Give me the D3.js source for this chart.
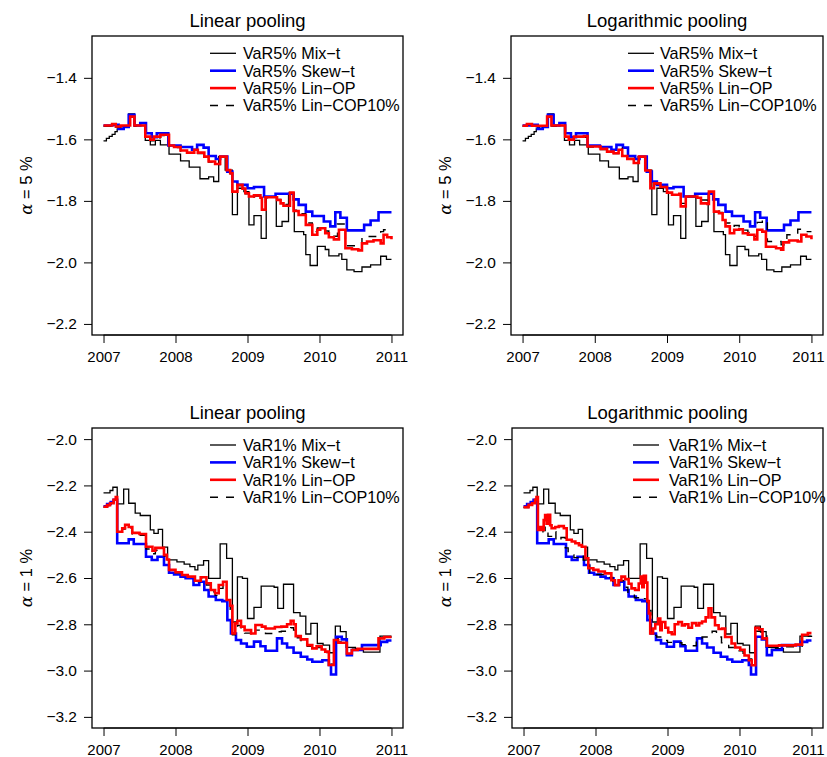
<!DOCTYPE html>
<html><head><meta charset="utf-8">
<script src="https://cdn.jsdelivr.net/npm/d3@7"></script>
<style>body{margin:0;background:#fff}svg{display:block}text{font-family:"Liberation Sans",Arial,Helvetica,sans-serif;fill:#000}</style>
</head><body><svg id="c" width="827" height="757"></svg>
<script>
// ---------- data ----------
const yearTicks = [2007, 2008, 2009, 2010, 2011];
const yTicks5 = [-2.2, -2.0, -1.8, -1.6, -1.4];
const yTicks1 = [-3.2, -3.0, -2.8, -2.6, -2.4, -2.2, -2.0];
const titles = ["Linear pooling", "Logarithmic pooling"];
const legend5 = ["VaR5% Mix\u2212t", "VaR5% Skew\u2212t", "VaR5% Lin\u2212OP", "VaR5% Lin\u2212COP10%"];
const legend1 = ["VaR1% Mix\u2212t", "VaR1% Skew\u2212t", "VaR1% Lin\u2212OP", "VaR1% Lin\u2212COP10%"];

// alpha = 5%  [year, VaR]
const mix5 = [[2007.00,-1.605],[2007.04,-1.597],[2007.08,-1.590],[2007.12,-1.584],[2007.16,-1.575],[2007.19,-1.566],[2007.23,-1.556],[2007.35,-1.517],[2007.43,-1.555],[2007.58,-1.603],[2007.65,-1.618],[2007.72,-1.603],[2007.79,-1.618],[2007.91,-1.648],[2008.07,-1.670],[2008.19,-1.690],[2008.34,-1.728],[2008.46,-1.722],[2008.53,-1.737],[2008.60,-1.656],[2008.69,-1.700],[2008.79,-1.845],[2008.86,-1.759],[2008.95,-1.770],[2009.02,-1.878],[2009.09,-1.848],[2009.19,-1.922],[2009.26,-1.786],[2009.40,-1.883],[2009.48,-1.867],[2009.57,-1.775],[2009.65,-1.900],[2009.78,-1.910],[2009.81,-1.975],[2009.87,-2.010],[2009.97,-1.948],[2010.08,-1.958],[2010.13,-1.979],[2010.27,-1.972],[2010.31,-1.990],[2010.38,-2.024],[2010.48,-2.030],[2010.59,-2.015],[2010.71,-2.008],[2010.85,-1.980],[2010.93,-1.990],[2011.00,-1.990]];
const skew5 = [[2007.00,-1.555],[2007.12,-1.553],[2007.21,-1.566],[2007.28,-1.560],[2007.35,-1.520],[2007.43,-1.555],[2007.51,-1.547],[2007.59,-1.580],[2007.67,-1.593],[2007.74,-1.580],[2007.90,-1.620],[2008.07,-1.625],[2008.23,-1.634],[2008.30,-1.618],[2008.39,-1.627],[2008.46,-1.654],[2008.56,-1.664],[2008.62,-1.656],[2008.72,-1.705],[2008.79,-1.737],[2008.86,-1.748],[2009.00,-1.759],[2009.09,-1.755],[2009.23,-1.786],[2009.39,-1.777],[2009.64,-1.795],[2009.71,-1.813],[2009.81,-1.835],[2009.90,-1.849],[2010.06,-1.867],[2010.15,-1.883],[2010.22,-1.837],[2010.29,-1.855],[2010.38,-1.896],[2010.62,-1.878],[2010.71,-1.864],[2010.82,-1.837],[2011.00,-1.837]];
const linOP5lin = [[2007.00,-1.555],[2007.12,-1.550],[2007.17,-1.558],[2007.24,-1.555],[2007.37,-1.526],[2007.43,-1.555],[2007.58,-1.591],[2007.65,-1.601],[2007.70,-1.591],[2007.79,-1.585],[2007.91,-1.620],[2007.98,-1.625],[2008.07,-1.636],[2008.16,-1.643],[2008.26,-1.634],[2008.31,-1.643],[2008.40,-1.656],[2008.46,-1.672],[2008.55,-1.680],[2008.62,-1.656],[2008.71,-1.700],[2008.76,-1.710],[2008.79,-1.770],[2008.86,-1.748],[2008.93,-1.760],[2008.97,-1.775],[2009.02,-1.786],[2009.09,-1.782],[2009.18,-1.790],[2009.20,-1.829],[2009.25,-1.788],[2009.41,-1.797],[2009.46,-1.808],[2009.50,-1.816],[2009.59,-1.773],[2009.64,-1.833],[2009.71,-1.846],[2009.81,-1.878],[2009.90,-1.910],[2009.97,-1.894],[2010.01,-1.889],[2010.08,-1.905],[2010.13,-1.918],[2010.20,-1.925],[2010.27,-1.894],[2010.36,-1.954],[2010.45,-1.957],[2010.54,-1.961],[2010.59,-1.938],[2010.66,-1.932],[2010.75,-1.928],[2010.85,-1.938],[2010.89,-1.910],[2010.94,-1.918],[2011.00,-1.925]];
const cop5lin = [[2007.00,-1.557],[2007.12,-1.552],[2007.17,-1.560],[2007.24,-1.556],[2007.37,-1.528],[2007.43,-1.557],[2007.58,-1.593],[2007.65,-1.605],[2007.70,-1.595],[2007.79,-1.588],[2007.91,-1.622],[2007.98,-1.627],[2008.07,-1.638],[2008.16,-1.645],[2008.26,-1.636],[2008.31,-1.646],[2008.40,-1.660],[2008.46,-1.674],[2008.55,-1.682],[2008.62,-1.658],[2008.71,-1.702],[2008.76,-1.712],[2008.79,-1.772],[2008.86,-1.750],[2008.93,-1.762],[2008.97,-1.777],[2009.02,-1.788],[2009.09,-1.784],[2009.18,-1.792],[2009.20,-1.826],[2009.25,-1.790],[2009.41,-1.795],[2009.46,-1.803],[2009.50,-1.812],[2009.59,-1.775],[2009.64,-1.830],[2009.71,-1.842],[2009.81,-1.872],[2009.90,-1.900],[2009.97,-1.888],[2010.01,-1.884],[2010.08,-1.898],[2010.13,-1.910],[2010.20,-1.915],[2010.25,-1.875],[2010.36,-1.946],[2010.50,-1.948],[2010.59,-1.920],[2010.66,-1.916],[2010.78,-1.912],[2010.85,-1.900],[2010.89,-1.894],[2011.00,-1.896]];
const linOP5log = [[2007.00,-1.556],[2007.06,-1.550],[2007.13,-1.556],[2007.34,-1.526],[2007.40,-1.555],[2007.59,-1.591],[2007.64,-1.601],[2007.71,-1.591],[2007.85,-1.589],[2007.90,-1.623],[2008.08,-1.631],[2008.17,-1.640],[2008.26,-1.645],[2008.33,-1.634],[2008.38,-1.654],[2008.45,-1.664],[2008.54,-1.677],[2008.61,-1.656],[2008.70,-1.701],[2008.77,-1.759],[2008.82,-1.743],[2008.91,-1.755],[2009.00,-1.773],[2009.07,-1.780],[2009.17,-1.777],[2009.19,-1.818],[2009.26,-1.786],[2009.42,-1.790],[2009.47,-1.808],[2009.56,-1.810],[2009.58,-1.770],[2009.65,-1.835],[2009.72,-1.840],[2009.77,-1.862],[2009.81,-1.883],[2009.87,-1.905],[2009.93,-1.894],[2010.00,-1.892],[2010.05,-1.905],[2010.12,-1.910],[2010.21,-1.925],[2010.25,-1.894],[2010.32,-1.900],[2010.37,-1.949],[2010.51,-1.954],[2010.58,-1.959],[2010.61,-1.935],[2010.69,-1.929],[2010.81,-1.932],[2010.86,-1.910],[2010.93,-1.916],[2011.00,-1.925]];
const cop5log = [[2007.00,-1.557],[2007.06,-1.552],[2007.13,-1.558],[2007.34,-1.528],[2007.40,-1.557],[2007.59,-1.593],[2007.64,-1.603],[2007.71,-1.593],[2007.90,-1.625],[2008.08,-1.633],[2008.17,-1.642],[2008.26,-1.646],[2008.33,-1.628],[2008.38,-1.650],[2008.45,-1.662],[2008.54,-1.672],[2008.61,-1.656],[2008.70,-1.700],[2008.77,-1.755],[2008.82,-1.745],[2008.91,-1.757],[2009.00,-1.772],[2009.07,-1.780],[2009.17,-1.783],[2009.19,-1.808],[2009.26,-1.786],[2009.42,-1.790],[2009.47,-1.797],[2009.56,-1.803],[2009.58,-1.772],[2009.65,-1.828],[2009.72,-1.838],[2009.77,-1.855],[2009.81,-1.872],[2009.87,-1.885],[2009.93,-1.880],[2010.00,-1.884],[2010.05,-1.895],[2010.12,-1.903],[2010.21,-1.915],[2010.25,-1.870],[2010.32,-1.862],[2010.39,-1.932],[2010.58,-1.943],[2010.66,-1.910],[2010.81,-1.892],[2010.88,-1.900],[2011.00,-1.900]];

// alpha = 1%
const mix1 = [[2007.00,-2.232],[2007.09,-2.222],[2007.13,-2.208],[2007.19,-2.280],[2007.28,-2.216],[2007.35,-2.277],[2007.44,-2.320],[2007.51,-2.330],[2007.65,-2.392],[2007.70,-2.407],[2007.76,-2.390],[2007.82,-2.467],[2007.89,-2.522],[2008.02,-2.530],[2008.12,-2.540],[2008.20,-2.551],[2008.27,-2.565],[2008.31,-2.544],[2008.39,-2.525],[2008.46,-2.602],[2008.62,-2.453],[2008.71,-2.515],[2008.79,-2.790],[2008.86,-2.595],[2008.93,-2.602],[2009.00,-2.775],[2009.09,-2.727],[2009.19,-2.635],[2009.37,-2.640],[2009.42,-2.731],[2009.50,-2.627],[2009.64,-2.750],[2009.73,-2.765],[2009.81,-2.842],[2009.88,-2.796],[2009.97,-2.883],[2010.05,-2.890],[2010.14,-2.923],[2010.22,-2.808],[2010.29,-2.832],[2010.37,-2.900],[2010.50,-2.905],[2010.61,-2.920],[2010.84,-2.851],[2011.00,-2.851]];
const skew1 = [[2007.00,-2.290],[2007.05,-2.280],[2007.10,-2.272],[2007.14,-2.262],[2007.19,-2.450],[2007.35,-2.433],[2007.42,-2.453],[2007.59,-2.508],[2007.67,-2.522],[2007.75,-2.508],[2007.84,-2.544],[2007.91,-2.577],[2007.98,-2.585],[2008.07,-2.594],[2008.14,-2.601],[2008.25,-2.630],[2008.33,-2.616],[2008.40,-2.652],[2008.46,-2.680],[2008.56,-2.695],[2008.65,-2.700],[2008.72,-2.782],[2008.77,-2.840],[2008.84,-2.868],[2008.91,-2.883],[2008.99,-2.897],[2009.09,-2.875],[2009.18,-2.895],[2009.25,-2.914],[2009.41,-2.861],[2009.48,-2.883],[2009.55,-2.900],[2009.64,-2.923],[2009.74,-2.940],[2009.83,-2.952],[2009.90,-2.962],[2010.04,-2.955],[2010.13,-2.976],[2010.16,-3.017],[2010.23,-2.854],[2010.31,-2.865],[2010.38,-2.933],[2010.45,-2.911],[2010.59,-2.890],[2010.85,-2.876],[2010.94,-2.870],[2011.00,-2.870]];
const linOP1lin = [[2007.00,-2.292],[2007.05,-2.285],[2007.09,-2.277],[2007.14,-2.262],[2007.17,-2.250],[2007.19,-2.400],[2007.26,-2.385],[2007.30,-2.370],[2007.35,-2.380],[2007.40,-2.405],[2007.50,-2.410],[2007.59,-2.465],[2007.68,-2.482],[2007.72,-2.470],[2007.80,-2.470],[2007.84,-2.500],[2007.88,-2.520],[2007.91,-2.565],[2008.00,-2.575],[2008.09,-2.587],[2008.17,-2.594],[2008.27,-2.612],[2008.35,-2.597],[2008.43,-2.623],[2008.49,-2.652],[2008.55,-2.666],[2008.60,-2.630],[2008.66,-2.616],[2008.71,-2.695],[2008.76,-2.720],[2008.79,-2.840],[2008.83,-2.796],[2008.86,-2.785],[2008.91,-2.810],[2008.96,-2.825],[2009.05,-2.840],[2009.11,-2.803],[2009.20,-2.810],[2009.25,-2.818],[2009.38,-2.812],[2009.47,-2.810],[2009.55,-2.800],[2009.60,-2.785],[2009.64,-2.800],[2009.67,-2.851],[2009.74,-2.865],[2009.83,-2.890],[2009.90,-2.904],[2009.96,-2.895],[2010.03,-2.909],[2010.08,-2.918],[2010.13,-2.976],[2010.20,-2.868],[2010.26,-2.880],[2010.38,-2.926],[2010.45,-2.911],[2010.53,-2.906],[2010.82,-2.861],[2010.90,-2.855],[2011.00,-2.855]];
const cop1lin = [[2007.00,-2.294],[2007.05,-2.287],[2007.09,-2.279],[2007.14,-2.264],[2007.17,-2.252],[2007.19,-2.402],[2007.26,-2.388],[2007.30,-2.375],[2007.35,-2.385],[2007.40,-2.410],[2007.50,-2.415],[2007.59,-2.475],[2007.68,-2.495],[2007.72,-2.480],[2007.80,-2.478],[2007.84,-2.505],[2007.88,-2.525],[2007.91,-2.568],[2008.00,-2.578],[2008.09,-2.590],[2008.17,-2.597],[2008.27,-2.615],[2008.35,-2.602],[2008.43,-2.630],[2008.49,-2.660],[2008.55,-2.675],[2008.60,-2.645],[2008.66,-2.630],[2008.71,-2.700],[2008.76,-2.735],[2008.79,-2.845],[2008.83,-2.815],[2008.86,-2.805],[2008.91,-2.825],[2008.96,-2.838],[2009.05,-2.850],[2009.11,-2.825],[2009.20,-2.830],[2009.25,-2.840],[2009.38,-2.832],[2009.47,-2.830],[2009.55,-2.825],[2009.60,-2.815],[2009.64,-2.825],[2009.67,-2.858],[2009.74,-2.870],[2009.83,-2.895],[2009.90,-2.908],[2009.96,-2.900],[2010.03,-2.912],[2010.08,-2.922],[2010.13,-2.972],[2010.20,-2.862],[2010.26,-2.876],[2010.38,-2.922],[2010.45,-2.908],[2010.53,-2.905],[2010.82,-2.860],[2010.90,-2.856],[2011.00,-2.856]];
const linOP1log = [[2007.00,-2.294],[2007.07,-2.284],[2007.12,-2.277],[2007.16,-2.262],[2007.18,-2.250],[2007.20,-2.392],[2007.23,-2.380],[2007.26,-2.392],[2007.28,-2.350],[2007.30,-2.328],[2007.32,-2.365],[2007.34,-2.327],[2007.37,-2.372],[2007.39,-2.385],[2007.44,-2.380],[2007.49,-2.376],[2007.56,-2.385],[2007.60,-2.435],[2007.67,-2.442],[2007.72,-2.450],[2007.77,-2.458],[2007.81,-2.465],[2007.86,-2.515],[2007.90,-2.558],[2007.97,-2.565],[2008.04,-2.572],[2008.13,-2.580],[2008.22,-2.610],[2008.27,-2.631],[2008.32,-2.610],[2008.36,-2.594],[2008.41,-2.605],[2008.46,-2.625],[2008.50,-2.645],[2008.55,-2.652],[2008.60,-2.624],[2008.63,-2.594],[2008.65,-2.640],[2008.67,-2.590],[2008.70,-2.620],[2008.72,-2.700],[2008.74,-2.753],[2008.76,-2.840],[2008.80,-2.818],[2008.83,-2.800],[2008.87,-2.775],[2008.90,-2.826],[2008.92,-2.790],[2008.97,-2.815],[2009.01,-2.835],[2009.06,-2.843],[2009.10,-2.800],[2009.15,-2.790],[2009.20,-2.805],[2009.24,-2.800],[2009.29,-2.815],[2009.34,-2.795],[2009.40,-2.805],[2009.44,-2.795],[2009.48,-2.788],[2009.53,-2.770],[2009.57,-2.731],[2009.61,-2.770],[2009.66,-2.804],[2009.71,-2.820],[2009.76,-2.818],[2009.80,-2.855],[2009.89,-2.883],[2009.94,-2.900],[2010.01,-2.910],[2010.07,-2.935],[2010.13,-2.955],[2010.17,-2.977],[2010.22,-2.815],[2010.27,-2.822],[2010.32,-2.861],[2010.38,-2.893],[2010.55,-2.891],[2010.78,-2.888],[2010.87,-2.845],[2010.95,-2.838],[2011.00,-2.838]];
const cop1log = [[2007.00,-2.296],[2007.07,-2.286],[2007.12,-2.279],[2007.16,-2.264],[2007.18,-2.255],[2007.20,-2.405],[2007.27,-2.395],[2007.30,-2.380],[2007.34,-2.420],[2007.40,-2.400],[2007.45,-2.440],[2007.52,-2.425],[2007.58,-2.470],[2007.62,-2.500],[2007.70,-2.512],[2007.77,-2.500],[2007.83,-2.522],[2007.88,-2.545],[2007.92,-2.577],[2008.02,-2.585],[2008.13,-2.598],[2008.24,-2.625],[2008.32,-2.612],[2008.39,-2.640],[2008.45,-2.668],[2008.54,-2.685],[2008.62,-2.680],[2008.68,-2.690],[2008.72,-2.740],[2008.77,-2.848],[2008.85,-2.855],[2008.93,-2.870],[2009.00,-2.878],[2009.10,-2.880],[2009.20,-2.888],[2009.30,-2.893],[2009.40,-2.870],[2009.48,-2.855],[2009.55,-2.840],[2009.62,-2.830],[2009.68,-2.855],[2009.75,-2.880],[2009.85,-2.900],[2009.95,-2.915],[2010.05,-2.925],[2010.13,-2.950],[2010.17,-2.975],[2010.22,-2.830],[2010.30,-2.845],[2010.38,-2.900],[2010.55,-2.897],[2010.78,-2.895],[2010.87,-2.852],[2011.00,-2.850]];

// ---------- drawing ----------
const svg = d3.select("#c");
svg.append("rect").attr("width",827).attr("height",757).attr("fill","#fff");

const styles = [
  {color:"#000", width:1.3, dash:null},
  {color:"#0000ff", width:2.6, dash:null},
  {color:"#ff0000", width:2.6, dash:null},
  {color:"#000", width:1.4, dash:"8,8"}
];

const panels = [
  {left:92, top:36, right:403, bottom:335, ydom:[-2.236,-1.264], ticks:yTicks5, title:titles[0], ylab:"5", legend:legend5, series:[mix5,skew5,linOP5lin,cop5lin], labX:32, legX:210, legY:53.3, titleY:27},
  {left:511, top:36, right:823, bottom:335, ydom:[-2.236,-1.264], ticks:yTicks5, title:titles[1], ylab:"5", legend:legend5, series:[mix5,skew5,linOP5log,cop5log], labX:451, legX:628, legY:53.3, titleY:27},
  {left:92, top:428, right:403, bottom:728, ydom:[-3.248,-1.952], ticks:yTicks1, title:titles[0], ylab:"1", legend:legend1, series:[mix1,skew1,linOP1lin,cop1lin], labX:32, legX:210, legY:445, titleY:419},
  {left:512, top:428, right:823, bottom:728, ydom:[-3.248,-1.952], ticks:yTicks1, title:titles[1], ylab:"1", legend:legend1, series:[mix1,skew1,linOP1log,cop1log], labX:451, legX:633, legY:445, titleY:419}
];
const legTextOff = [33, 32, 33, 36];
const drawOrder = [0,1,3,2];

panels.forEach((p,pi) => {
  const g = svg.append("g");
  const x = d3.scaleLinear().domain([2006.84, 2011.16]).range([p.left, p.right]);
  const y = d3.scaleLinear().domain(p.ydom).range([p.bottom, p.top]);

  const cid = "clip"+pi;
  g.append("clipPath").attr("id",cid).append("rect")
    .attr("x",p.left).attr("y",p.top).attr("width",p.right-p.left).attr("height",p.bottom-p.top);

  const line = d3.line().x(d=>x(d[0])).y(d=>y(d[1])).curve(d3.curveStepAfter);
  const lg = g.append("g").attr("clip-path",`url(#${cid})`);
  drawOrder.forEach(i => {
    const s = styles[i];
    lg.append("path").datum(p.series[i]).attr("d",line)
      .attr("fill","none").attr("stroke",s.color).attr("stroke-width",s.width)
      .attr("stroke-dasharray",s.dash).attr("stroke-linejoin","miter").attr("stroke-linecap","butt");
  });

  // axes
  const fmt = d3.format(".1f");
  const ya = g.append("g").attr("transform",`translate(${p.left},0)`)
    .call(d3.axisLeft(y).tickValues(p.ticks).tickFormat(fmt).tickSize(8).tickPadding(7));
  ya.select(".domain").remove();
  ya.selectAll("line").attr("stroke","#000").attr("stroke-width",1);
  ya.selectAll("text").attr("font-size",15.5).attr("font-family","Liberation Sans, Arial, sans-serif");

  const xa = g.append("g").attr("transform",`translate(0,${p.bottom})`)
    .call(d3.axisBottom(x).tickValues(yearTicks).tickFormat(d3.format("d")).tickSize(8).tickPadding(8));
  xa.select(".domain").remove();
  xa.append("line").attr("x1",x(2007)).attr("x2",x(2011)).attr("y1",0).attr("y2",0).attr("stroke","#000");
  xa.selectAll("line").attr("stroke","#000").attr("stroke-width",1);
  xa.selectAll("text").attr("font-size",15).attr("font-family","Liberation Sans, Arial, sans-serif")
    .attr("dx", d => (d === 2011 && p.left > 400) ? "-3.5" : null);

  // box
  g.append("rect").attr("x",p.left).attr("y",p.top).attr("width",p.right-p.left).attr("height",p.bottom-p.top)
    .attr("fill","none").attr("stroke","#000").attr("stroke-width",1.3);

  // title
  g.append("text").attr("x",(p.left+p.right)/2).attr("y",p.titleY).attr("text-anchor","middle")
    .attr("font-size",18.5).text(p.title);

  // y label
  const cy = (p.top+p.bottom)/2;
  const yl = g.append("text").attr("transform",`translate(${p.labX},${cy}) rotate(-90)`)
    .attr("text-anchor","middle").attr("font-size",16.5);
  yl.append("tspan").attr("font-family","DejaVu Serif, serif").attr("font-style","italic").text("\u03b1");
  yl.append("tspan").text(" = " + p.ylab + " %");

  // legend
  p.legend.forEach((lab,i) => {
    const ly = p.legY + i*17.4;
    const s = styles[i];
    g.append("line").attr("x1",p.legX).attr("x2",p.legX+26).attr("y1",ly).attr("y2",ly)
      .attr("stroke",s.color).attr("stroke-width",s.width).attr("stroke-dasharray",s.dash);
    g.append("text").attr("x",p.legX+legTextOff[pi]).attr("y",ly+5.8).attr("font-size",16.2).text(lab);
  });
});
</script>
</body></html>
